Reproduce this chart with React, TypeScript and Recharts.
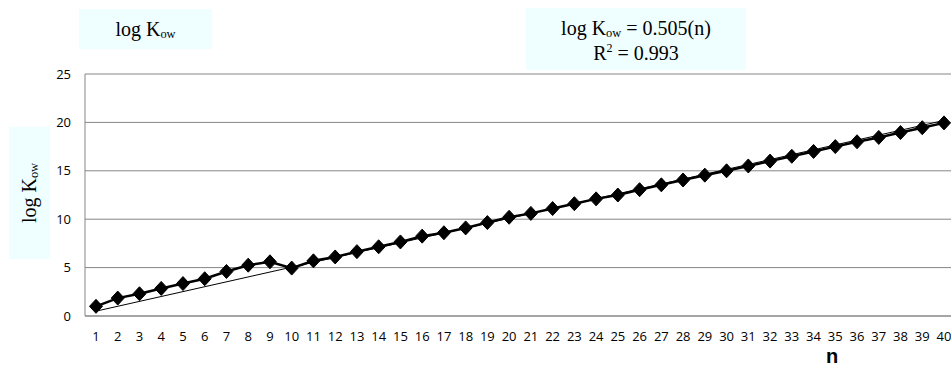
import React from 'react';
import { LineChart, Line, XAxis, YAxis, CartesianGrid } from 'recharts';

const nValues = [
  1, 2, 3, 4, 5, 6, 7, 8, 9, 10, 11, 12, 13, 14, 15, 16, 17, 18, 19, 20,
  21, 22, 23, 24, 25, 26, 27, 28, 29, 30, 31, 32, 33, 34, 35, 36, 37, 38, 39, 40,
];

const logKow = [
  1.0, 1.85, 2.3, 2.85, 3.35, 3.85, 4.6, 5.25, 5.6, 4.95,
  5.7, 6.1, 6.65, 7.15, 7.65, 8.25, 8.6, 9.1, 9.65, 10.2,
  10.6, 11.1, 11.6, 12.1, 12.5, 13.05, 13.55, 14.05, 14.55, 15.0,
  15.5, 16.0, 16.5, 17.0, 17.5, 18.0, 18.45, 18.95, 19.45, 19.95,
];

// trendline end points (n = 1 and n = 40)
const trendStart = 0.5;
const trendEnd = 20.2;

const yTicks = [0, 5, 10, 15, 20, 25];

const data = nValues.map((n, i) => ({
  n,
  logKow: logKow[i],
  trend: i === 0 ? trendStart : i === nValues.length - 1 ? trendEnd : null,
}));

const gridColor = '#868686';
const boxBg = '#effefe';
const serif = '"Liberation Serif", "Times New Roman", serif';
const tickFont = { fontSize: 13, fill: '#000', fontFamily: '"Open Sans", sans-serif' };

const Diamond = (props: any) => {
  const { cx, cy, index } = props;
  if (cx == null || cy == null) return <g key={index} />;
  const rx = 6.5;
  const ry = 7;
  return (
    <path
      key={index}
      d={`M${cx},${cy - ry} L${cx + rx},${cy} L${cx},${cy + ry} L${cx - rx},${cy} Z`}
      fill="#000"
      stroke="#000"
    />
  );
};

const LogK = ({ size }: { size: number }) => (
  <span>
    log K<sub style={{ fontSize: size * 0.62, verticalAlign: 'baseline', position: 'relative', top: size * 0.12 }}>ow</sub>
  </span>
);

export default function App() {
  return (
    <div style={{ position: 'absolute', left: 0, top: 0, width: 951, height: 372, overflow: 'hidden', background: '#fff' }}>
      <LineChart
        width={956}
        height={372}
        data={data}
        margin={{ top: 74, right: 1, bottom: 26, left: 45 }}
      >
        <CartesianGrid vertical={false} stroke={gridColor} />
        <XAxis
          dataKey="n"
          type="category"
          interval={0}
          padding={{ left: 11, right: 11 }}
          tickLine={false}
          tickSize={0}
          tickMargin={16}
          axisLine={{ stroke: gridColor }}
          tick={tickFont}
          height={30}
        />
        <YAxis
          domain={[0, 25]}
          ticks={yTicks}
          width={40}
          tickLine={false}
          tickSize={0}
          tickMargin={14}
          axisLine={{ stroke: gridColor }}
          tick={tickFont}
        />
        <Line
          dataKey="trend"
          stroke="#000"
          strokeWidth={1}
          dot={false}
          connectNulls
          isAnimationActive={false}
        />
        <Line
          dataKey="logKow"
          stroke="#000"
          strokeWidth={2.5}
          dot={Diamond}
          activeDot={false}
          isAnimationActive={false}
        />
      </LineChart>

      <div
        style={{
          position: 'absolute', left: 79, top: 9, width: 133, height: 40,
          background: boxBg, fontFamily: serif, fontSize: 20, lineHeight: '40px', textAlign: 'center',
        }}
      >
        <LogK size={20} />
      </div>

      <div
        style={{
          position: 'absolute', left: 526, top: 8, width: 220, height: 62,
          background: boxBg, fontFamily: serif, fontSize: 20, lineHeight: '22px', textAlign: 'center',
          paddingTop: 9, boxSizing: 'border-box',
        }}
      >
        <div><LogK size={20} /> = 0.505(n)</div>
        <div>R<sup style={{ fontSize: 12, verticalAlign: 'baseline', position: 'relative', top: -8 }}>2</sup> = 0.993</div>
      </div>

      <div
        style={{
          position: 'absolute', left: 9, top: 127, width: 41, height: 132,
          background: boxBg,
        }}
      >
        <div
          style={{
            position: 'absolute', left: 20, top: 66, width: 132, height: 30,
            transform: 'translate(-50%, -50%) rotate(-90deg)',
            fontFamily: serif, fontSize: 20, lineHeight: '30px', textAlign: 'center', whiteSpace: 'nowrap',
          }}
        >
          <LogK size={20} />
        </div>
      </div>

      <div
        style={{
          position: 'absolute', left: 812, top: 349, width: 40, height: 14, textAlign: 'center',
          fontFamily: '"Liberation Sans", Arial, sans-serif', fontWeight: 'bold', fontSize: 20, lineHeight: '14px',
        }}
      >
        n
      </div>
    </div>
  );
}
